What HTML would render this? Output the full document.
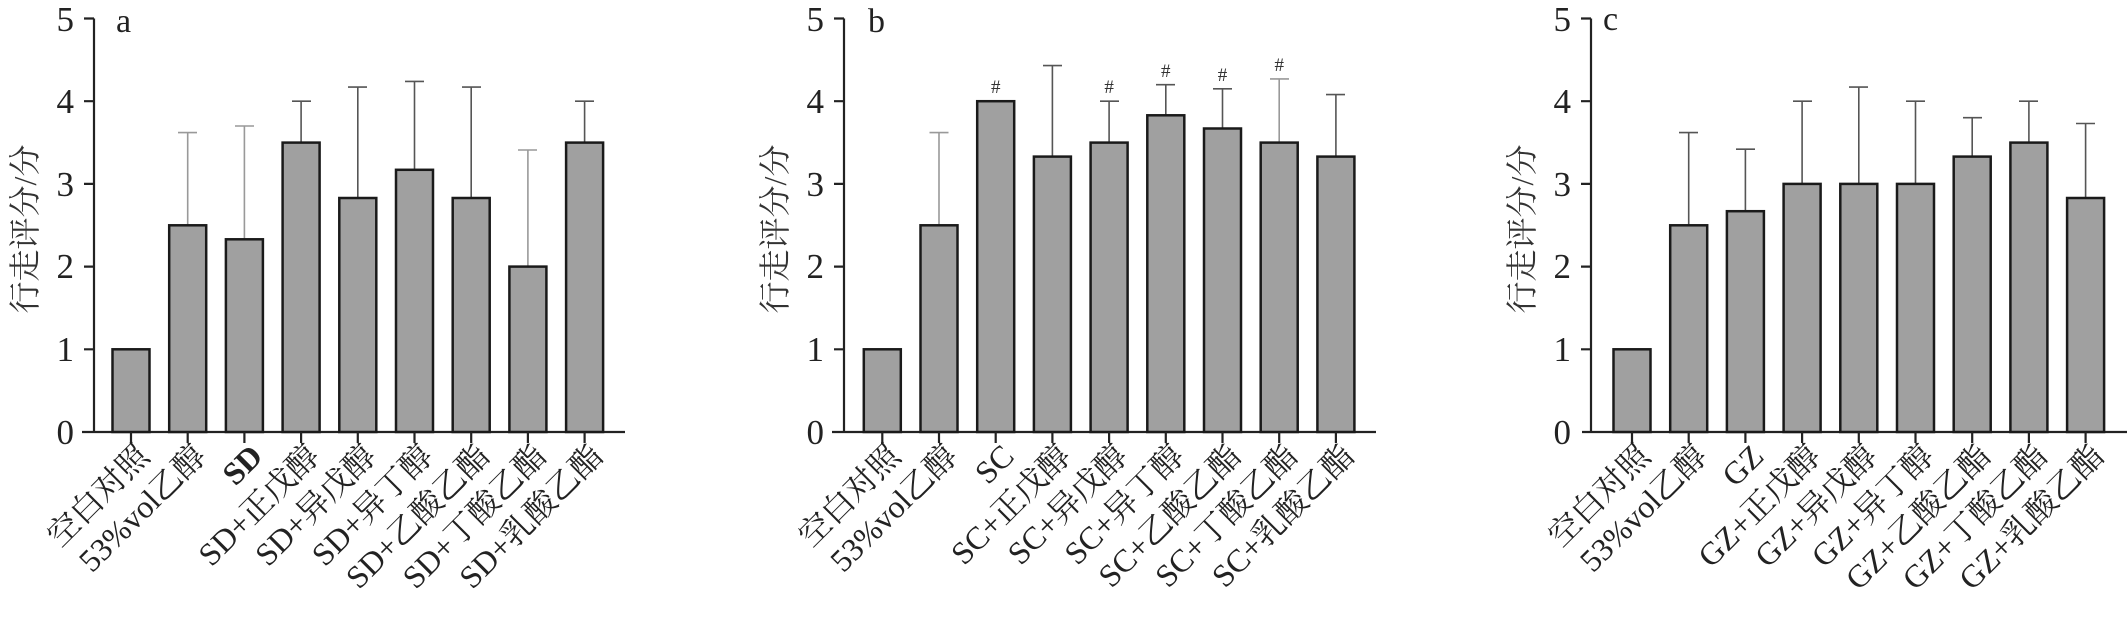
<!DOCTYPE html>
<html><head><meta charset="utf-8"><style>
html,body{margin:0;padding:0;background:#fff;}
svg{display:block;font-family:"Liberation Serif","Noto Serif CJK SC","Noto Sans CJK SC",serif;}
.bar{fill:#a0a0a0;stroke:#1a1a1a;stroke-width:2.5;}
.ax{stroke:#222;stroke-width:2.2;fill:none;}
.eb{stroke:#555;stroke-width:1.6;fill:none;}
.eg{stroke:#999;stroke-width:1.6;fill:none;}
.yt{font-size:35px;fill:#222;text-anchor:end;}
.xl{font-size:32px;fill:#222;text-anchor:end;}
.tt{font-size:32px;fill:#333;text-anchor:middle;}
.lt{font-size:34px;fill:#222;}
.hs{font-size:19px;fill:#333;text-anchor:middle;}
</style></head><body>
<svg width="2127" height="619" viewBox="0 0 2127 619" xmlns="http://www.w3.org/2000/svg">

<!-- Panel a -->
<g transform="translate(94,0)">
  <path class="ax" d="M0,18.5 V432 M-12,432 H531"/>
  <path class="ax" d="M-10,18.5 H0 M-10,101.2 H0 M-10,183.9 H0 M-10,266.6 H0 M-10,349.3 H0"/>
  <text class="yt" x="-20" y="444">0</text><text class="yt" x="-20" y="361">1</text><text class="yt" x="-20" y="278">2</text><text class="yt" x="-20" y="196">3</text><text class="yt" x="-20" y="113">4</text><text class="yt" x="-20" y="31">5</text>
  <text class="tt" transform="translate(-58,229) rotate(-90)">行走评分/分</text>
  <text class="lt" x="22" y="32">a</text>
  <path class="eg" d="M93.7,225.3 V132.6 M84,132.6 H103"/>
  <path class="eg" d="M150.4,239.3 V126 M141,126 H160"/>
  <path class="eb" d="M207.1,142.6 V101.2 M198,101.2 H217"/>
  <path class="eb" d="M263.8,198 V87.1 M254,87.1 H273"/>
  <path class="eb" d="M320.5,169.8 V81.4 M311,81.4 H330"/>
  <path class="eb" d="M377.2,198 V87.1 M368,87.1 H387"/>
  <path class="eg" d="M433.9,266.6 V150 M424,150 H443"/>
  <path class="eb" d="M490.6,142.6 V101.2 M481,101.2 H500"/>
  <rect class="bar" x="18.5" y="349.3" width="37" height="82.7"/>
  <rect class="bar" x="75.2" y="225.3" width="37" height="206.7"/>
  <rect class="bar" x="131.9" y="239.3" width="37" height="192.7"/>
  <rect class="bar" x="188.6" y="142.6" width="37" height="289.4"/>
  <rect class="bar" x="245.3" y="198" width="37" height="234"/>
  <rect class="bar" x="302" y="169.8" width="37" height="262.2"/>
  <rect class="bar" x="358.7" y="198" width="37" height="234"/>
  <rect class="bar" x="415.4" y="266.6" width="37" height="165.4"/>
  <rect class="bar" x="472.1" y="142.6" width="37" height="289.4"/>
  <path class="ax" d="M37,432 V443 M93.7,432 V443 M150.4,432 V443 M207.1,432 V443 M263.8,432 V443 M320.5,432 V443 M377.2,432 V443 M433.9,432 V443 M490.6,432 V443"/>
  <text class="xl" transform="translate(57,458) rotate(-45)">空白对照</text>
  <text class="xl" transform="translate(113.7,458) rotate(-45)">53%vol乙醇</text>
  <text class="xl" transform="translate(170.4,458) rotate(-45)" font-weight="bold">SD</text>
  <text class="xl" transform="translate(227.1,458) rotate(-45)">SD+正戊醇</text>
  <text class="xl" transform="translate(283.8,458) rotate(-45)">SD+异戊醇</text>
  <text class="xl" transform="translate(340.5,458) rotate(-45)">SD+异丁醇</text>
  <text class="xl" transform="translate(397.2,458) rotate(-45)">SD+乙酸乙酯</text>
  <text class="xl" transform="translate(453.9,458) rotate(-45)">SD+丁酸乙酯</text>
  <text class="xl" transform="translate(510.6,458) rotate(-45)">SD+乳酸乙酯</text>
</g>

<!-- Panel b -->
<g transform="translate(844,0)">
  <path class="ax" d="M0,18.5 V432 M-12,432 H532"/>
  <path class="ax" d="M-10,18.5 H0 M-10,101.2 H0 M-10,183.9 H0 M-10,266.6 H0 M-10,349.3 H0"/>
  <text class="yt" x="-20" y="444">0</text><text class="yt" x="-20" y="361">1</text><text class="yt" x="-20" y="278">2</text><text class="yt" x="-20" y="196">3</text><text class="yt" x="-20" y="113">4</text><text class="yt" x="-20" y="31">5</text>
  <text class="tt" transform="translate(-58,229) rotate(-90)">行走评分/分</text>
  <text class="lt" x="24" y="32">b</text>
  <path class="eg" d="M95,225.3 V132.6 M85.5,132.6 H104.5"/>
  <path class="eb" d="M208.4,156.6 V65.6 M199,65.6 H218"/>
  <path class="eb" d="M265.1,142.6 V101.2 M256,101.2 H275"/>
  <path class="eb" d="M321.8,115.3 V84.7 M312,84.7 H331"/>
  <path class="eb" d="M378.5,128.5 V88.8 M369,88.8 H388"/>
  <path class="eg" d="M435.2,142.6 V78.9 M426,78.9 H445"/>
  <path class="eb" d="M491.9,156.6 V94.6 M482,94.6 H501"/>
  <rect class="bar" x="19.8" y="349.3" width="37" height="82.7"/>
  <rect class="bar" x="76.5" y="225.3" width="37" height="206.7"/>
  <rect class="bar" x="133.2" y="101.2" width="37" height="330.8"/>
  <rect class="bar" x="189.9" y="156.6" width="37" height="275.4"/>
  <rect class="bar" x="246.6" y="142.6" width="37" height="289.4"/>
  <rect class="bar" x="303.3" y="115.3" width="37" height="316.7"/>
  <rect class="bar" x="360" y="128.5" width="37" height="303.5"/>
  <rect class="bar" x="416.7" y="142.6" width="37" height="289.4"/>
  <rect class="bar" x="473.4" y="156.6" width="37" height="275.4"/>
  <text class="hs" x="151.7" y="93">#</text>
  <text class="hs" x="265.1" y="93">#</text>
  <text class="hs" x="321.8" y="77">#</text>
  <text class="hs" x="378.5" y="81">#</text>
  <text class="hs" x="435.2" y="71">#</text>
  <path class="ax" d="M38.3,432 V443 M95,432 V443 M151.7,432 V443 M208.4,432 V443 M265.1,432 V443 M321.8,432 V443 M378.5,432 V443 M435.2,432 V443 M491.9,432 V443"/>
  <text class="xl" transform="translate(58.3,458) rotate(-45)">空白对照</text>
  <text class="xl" transform="translate(115,458) rotate(-45)">53%vol乙醇</text>
  <text class="xl" transform="translate(171.7,458) rotate(-45)" font-size="35">SC</text>
  <text class="xl" transform="translate(228.4,458) rotate(-45)">SC+正戊醇</text>
  <text class="xl" transform="translate(285.1,458) rotate(-45)">SC+异戊醇</text>
  <text class="xl" transform="translate(341.8,458) rotate(-45)">SC+异丁醇</text>
  <text class="xl" transform="translate(398.5,458) rotate(-45)">SC+乙酸乙酯</text>
  <text class="xl" transform="translate(455.2,458) rotate(-45)">SC+丁酸乙酯</text>
  <text class="xl" transform="translate(511.9,458) rotate(-45)">SC+乳酸乙酯</text>
</g>

<!-- Panel c -->
<g transform="translate(1591,0)">
  <path class="ax" d="M0,18.5 V432 M-9,432 H536"/>
  <path class="ax" d="M-10,18.5 H0 M-10,101.2 H0 M-10,183.9 H0 M-10,266.6 H0 M-10,349.3 H0"/>
  <text class="yt" x="-20" y="444">0</text><text class="yt" x="-20" y="361">1</text><text class="yt" x="-20" y="278">2</text><text class="yt" x="-20" y="196">3</text><text class="yt" x="-20" y="113">4</text><text class="yt" x="-20" y="31">5</text>
  <text class="tt" transform="translate(-58,229) rotate(-90)">行走评分/分</text>
  <text class="lt" x="12" y="30">c</text>
  <path class="eb" d="M97.7,225.3 V132.6 M88,132.6 H107"/>
  <path class="eb" d="M154.4,211.2 V149.2 M145,149.2 H164"/>
  <path class="eb" d="M211.1,183.9 V101.2 M202,101.2 H221"/>
  <path class="eb" d="M267.8,183.9 V87.1 M258,87.1 H277"/>
  <path class="eb" d="M324.5,183.9 V101.2 M315,101.2 H334"/>
  <path class="eb" d="M381.2,156.6 V117.7 M372,117.7 H391"/>
  <path class="eb" d="M437.9,142.6 V101.2 M428,101.2 H447"/>
  <path class="eb" d="M494.6,198 V123.5 M485,123.5 H504"/>
  <rect class="bar" x="22.5" y="349.3" width="37" height="82.7"/>
  <rect class="bar" x="79.2" y="225.3" width="37" height="206.7"/>
  <rect class="bar" x="135.9" y="211.2" width="37" height="220.8"/>
  <rect class="bar" x="192.6" y="183.9" width="37" height="248.1"/>
  <rect class="bar" x="249.3" y="183.9" width="37" height="248.1"/>
  <rect class="bar" x="306" y="183.9" width="37" height="248.1"/>
  <rect class="bar" x="362.7" y="156.6" width="37" height="275.4"/>
  <rect class="bar" x="419.4" y="142.6" width="37" height="289.4"/>
  <rect class="bar" x="476.1" y="198" width="37" height="234"/>
  <path class="ax" d="M41,432 V443 M97.7,432 V443 M154.4,432 V443 M211.1,432 V443 M267.8,432 V443 M324.5,432 V443 M381.2,432 V443 M437.9,432 V443 M494.6,432 V443"/>
  <text class="xl" transform="translate(61,458) rotate(-45)">空白对照</text>
  <text class="xl" transform="translate(117.7,458) rotate(-45)">53%vol乙醇</text>
  <text class="xl" transform="translate(174.4,458) rotate(-45)" font-size="35">GZ</text>
  <text class="xl" transform="translate(231.1,458) rotate(-45)">GZ+正戊醇</text>
  <text class="xl" transform="translate(287.8,458) rotate(-45)">GZ+异戊醇</text>
  <text class="xl" transform="translate(344.5,458) rotate(-45)">GZ+异丁醇</text>
  <text class="xl" transform="translate(401.2,458) rotate(-45)">GZ+乙酸乙酯</text>
  <text class="xl" transform="translate(457.9,458) rotate(-45)">GZ+丁酸乙酯</text>
  <text class="xl" transform="translate(514.6,458) rotate(-45)">GZ+乳酸乙酯</text>
</g>
</svg>
</body></html>
